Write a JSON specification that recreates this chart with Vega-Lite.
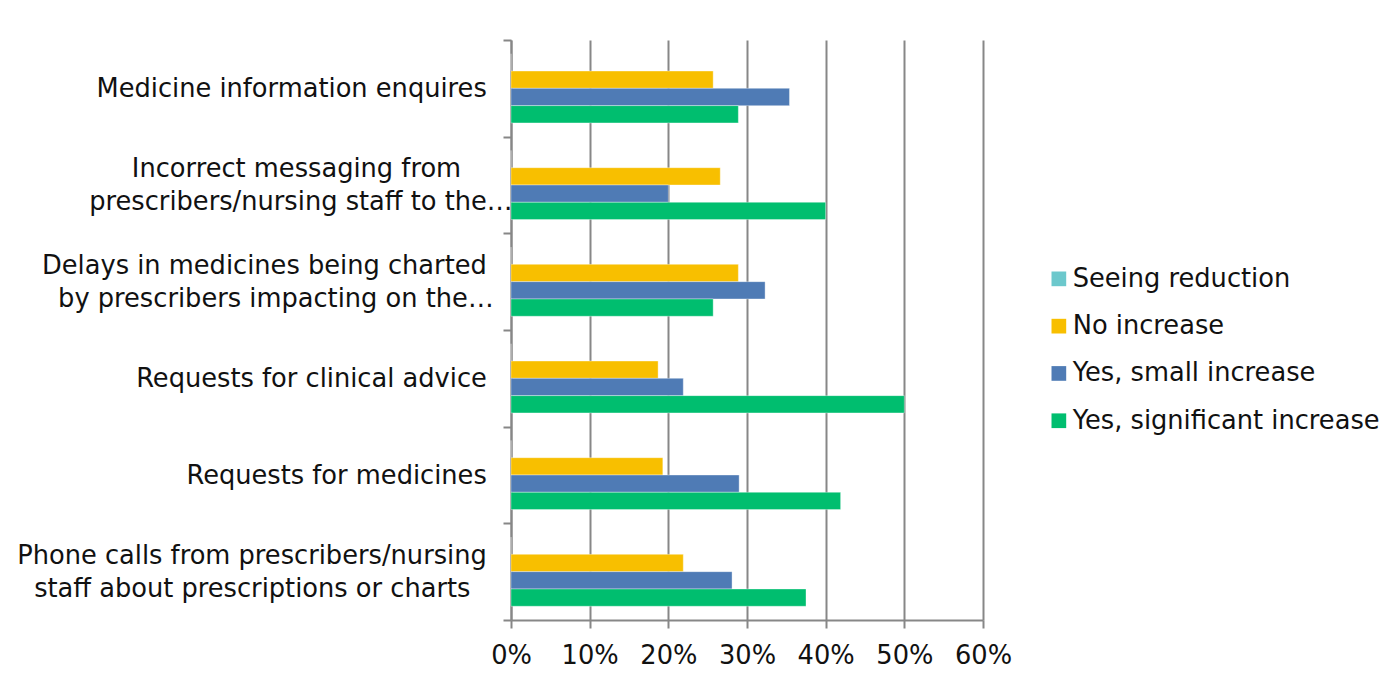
{
  "$schema": "https://vega.github.io/schema/vega-lite/v6.json",
  "width": 472,
  "height": 580,
  "autosize": {"type": "none"},
  "padding": {"left": 511, "top": 40, "right": 412, "bottom": 59},
  "background": "white",
  "config": {"view": {"stroke": null}, "font": "DejaVu Sans"},
  "data": {
    "values": [
      {"category": "Medicine information enquires", "series": "Seeing reduction", "value": 0},
      {"category": "Medicine information enquires", "series": "No increase", "value": 0.257},
      {"category": "Medicine information enquires", "series": "Yes, small increase", "value": 0.354},
      {"category": "Medicine information enquires", "series": "Yes, significant increase", "value": 0.289},
      {"category": "Incorrect messaging from|prescribers/nursing staff to the…", "series": "Seeing reduction", "value": 0},
      {"category": "Incorrect messaging from|prescribers/nursing staff to the…", "series": "No increase", "value": 0.266},
      {"category": "Incorrect messaging from|prescribers/nursing staff to the…", "series": "Yes, small increase", "value": 0.2},
      {"category": "Incorrect messaging from|prescribers/nursing staff to the…", "series": "Yes, significant increase", "value": 0.4},
      {"category": "Delays in medicines being charted|by prescribers impacting on the…", "series": "Seeing reduction", "value": 0},
      {"category": "Delays in medicines being charted|by prescribers impacting on the…", "series": "No increase", "value": 0.289},
      {"category": "Delays in medicines being charted|by prescribers impacting on the…", "series": "Yes, small increase", "value": 0.323},
      {"category": "Delays in medicines being charted|by prescribers impacting on the…", "series": "Yes, significant increase", "value": 0.257},
      {"category": "Requests for clinical advice", "series": "Seeing reduction", "value": 0},
      {"category": "Requests for clinical advice", "series": "No increase", "value": 0.187},
      {"category": "Requests for clinical advice", "series": "Yes, small increase", "value": 0.219},
      {"category": "Requests for clinical advice", "series": "Yes, significant increase", "value": 0.5},
      {"category": "Requests for medicines", "series": "Seeing reduction", "value": 0},
      {"category": "Requests for medicines", "series": "No increase", "value": 0.193},
      {"category": "Requests for medicines", "series": "Yes, small increase", "value": 0.29},
      {"category": "Requests for medicines", "series": "Yes, significant increase", "value": 0.419},
      {"category": "Phone calls from prescribers/nursing|staff about prescriptions or charts", "series": "Seeing reduction", "value": 0},
      {"category": "Phone calls from prescribers/nursing|staff about prescriptions or charts", "series": "No increase", "value": 0.219},
      {"category": "Phone calls from prescribers/nursing|staff about prescriptions or charts", "series": "Yes, small increase", "value": 0.281},
      {"category": "Phone calls from prescribers/nursing|staff about prescriptions or charts", "series": "Yes, significant increase", "value": 0.375}
    ]
  },
  "mark": {"type": "bar", "stroke": "white", "strokeWidth": 0.6, "strokeOpacity": 0.6},
  "encoding": {
    "y": {
      "field": "category",
      "type": "nominal",
      "sort": null,
      "scale": {"paddingInner": 0, "paddingOuter": 0},
      "axis": {
        "title": null,
        "labelExpr": "indexof(datum.label, 'Phone') == 0 ? [split(datum.label, '|')[0] + '\u2003\u200b', '\u200b', split(datum.label, '|')[1] + '\u2003\u2007\u200b'] : indexof(datum.label, 'Incorrect') == 0 ? [split(datum.label, '|')[0] + '\u2003\u2003\u200b', '\u200b', split(datum.label, '|')[1]] : indexof(datum.label, 'Delays') == 0 ? [split(datum.label, '|')[0] + '\u2003\u200b', '\u200b', split(datum.label, '|')[1] + '\u2007\u200a\u200b'] : ['\u200b', datum.label + '\u2003\u200b']",
        "labelFont": "DejaVu Sans",
        "labelFontSize": 25.7,
        "labelColor": "#111111",
        "labelLineHeight": 16.5,
        "labelOffset": -16.5,
        "labelLimit": 700,
        "labelPadding": -9,
        "labelAlign": "right",
        "tickBand": "extent",
        "tickSize": 8,
        "tickWidth": 2,
        "tickColor": "#878787",
        "domainColor": "#878787",
        "domainWidth": 2,
        "grid": false
      }
    },
    "yOffset": {
      "field": "series",
      "type": "nominal",
      "sort": ["Seeing reduction", "No increase", "Yes, small increase", "Yes, significant increase"],
      "scale": {"paddingInner": 0, "paddingOuter": 0.795}
    },
    "x": {
      "field": "value",
      "type": "quantitative",
      "scale": {"domain": [0, 0.6], "nice": false},
      "axis": {
        "title": null,
        "format": ".0%",
        "values": [0, 0.1, 0.2, 0.3, 0.4, 0.5, 0.6],
        "grid": true,
        "gridColor": "#878787",
        "gridWidth": 2,
        "domainColor": "#878787",
        "domainWidth": 2,
        "tickColor": "#878787",
        "tickWidth": 2,
        "tickSize": 8,
        "labelFont": "DejaVu Sans",
        "labelFontSize": 25.7,
        "labelColor": "#111111",
        "labelPadding": 15,
        "labelFlush": false
      }
    },
    "color": {
      "field": "series",
      "type": "nominal",
      "scale": {
        "domain": ["Seeing reduction", "No increase", "Yes, small increase", "Yes, significant increase"],
        "range": ["#6CC8CC", "#F8BF00", "#4F7BB5", "#00BE6F"]
      },
      "legend": {
        "title": null,
        "orient": "none",
        "legendX": 535,
        "legendY": 226,
        "symbolType": "square",
        "symbolSize": 216,
        "symbolStrokeWidth": 0,
        "labelFont": "DejaVu Sans",
        "labelFontSize": 25.7,
        "labelColor": "#111111",
        "labelOffset": 1,
        "rowPadding": 20.3,
        "labelLimit": 500
      }
    }
  }
}
